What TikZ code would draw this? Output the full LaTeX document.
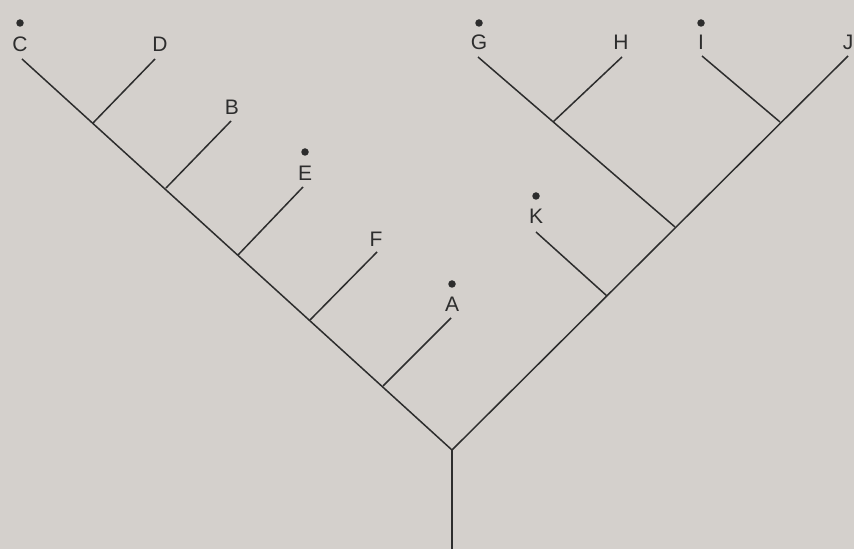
\documentclass[tikz,border=0pt]{standalone}
\usepackage{fontspec}
\setmainfont{Liberation Sans}
\usepackage{tikz}

\definecolor{paper}{RGB}{212,208,204}
\definecolor{ink}{RGB}{45,45,45}

\tikzset{
  taxon/.style = {font=\fontsize{21}{23}\selectfont, text=ink, inner sep=0pt},
  dotmark/.style = {circle, fill=ink, inner sep=0pt, minimum size=7.5pt}
}

\begin{document}
\begin{tikzpicture}[x=1pt, y=1pt, line width=1.5pt, draw=ink]
            \fill [paper] (0,0) rectangle (854,549);
            \useasboundingbox (0,0) rectangle (854,549);

            % stem and the two main lines
            \coordinate (base) at (452,0);
            \coordinate (root) at (452,99);
            \coordinate (tC) at (22,490);
            \coordinate (tJ) at (848,493);

            % left side
            \coordinate (jD) at (93,426);
            \coordinate (jB) at (166,361);
            \coordinate (jE) at (238,294);
            \coordinate (jF) at (310,229);
            \coordinate (jA) at (383,163);
            \coordinate (tD) at (155,490);
            \coordinate (tB) at (231,428);
            \coordinate (tE) at (303,362);
            \coordinate (tF) at (377,297);
            \coordinate (tA) at (451,231);

            % right side
            \coordinate (jK) at (607,253);
            \coordinate (jG) at (675,322);
            \coordinate (jH) at (553,427);
            \coordinate (jI) at (780,427);
            \coordinate (tK) at (536,317);
            \coordinate (tG) at (478,492);
            \coordinate (tH) at (622,492);
            \coordinate (tI) at (702,493);

            \draw (base) -- (root);
            \draw (tC) -- (root) -- (tJ);

            \draw (jD) -- (tD);
            \draw (jB) -- (tB);
            \draw (jE) -- (tE);
            \draw (jF) -- (tF);
            \draw (jA) -- (tA);

            \draw (jK) -- (tK);
            \draw (jG) -- (tG);
            \draw (jH) -- (tH);
            \draw (jI) -- (tI);

            % labels
            \node [taxon] (C) at (20,505) {C};
            \node [taxon] (D) at (160,505) {D};
            \node [taxon] (B) at (232,442) {B};
            \node [taxon] (E) at (305,376) {E};
            \node [taxon] (F) at (376,310) {F};
            \node [taxon] (A) at (452,245) {A};
            \node [taxon] (G) at (479,507) {G};
            \node [taxon] (H) at (621,507) {H};
            \node [taxon] (I) at (701,507) {I};
            \node [taxon] (J) at (848,507) {J};
            \node [taxon] (K) at (536,333) {K};

            % dots
            \node [dotmark] (dC) at (20,526) {};
            \node [dotmark] (dE) at (305,397) {};
            \node [dotmark] (dA) at (452,265) {};
            \node [dotmark] (dG) at (479,526) {};
            \node [dotmark] (dI) at (701,526) {};
            \node [dotmark] (dK) at (536,353) {};
        \end{tikzpicture}
\end{document}
